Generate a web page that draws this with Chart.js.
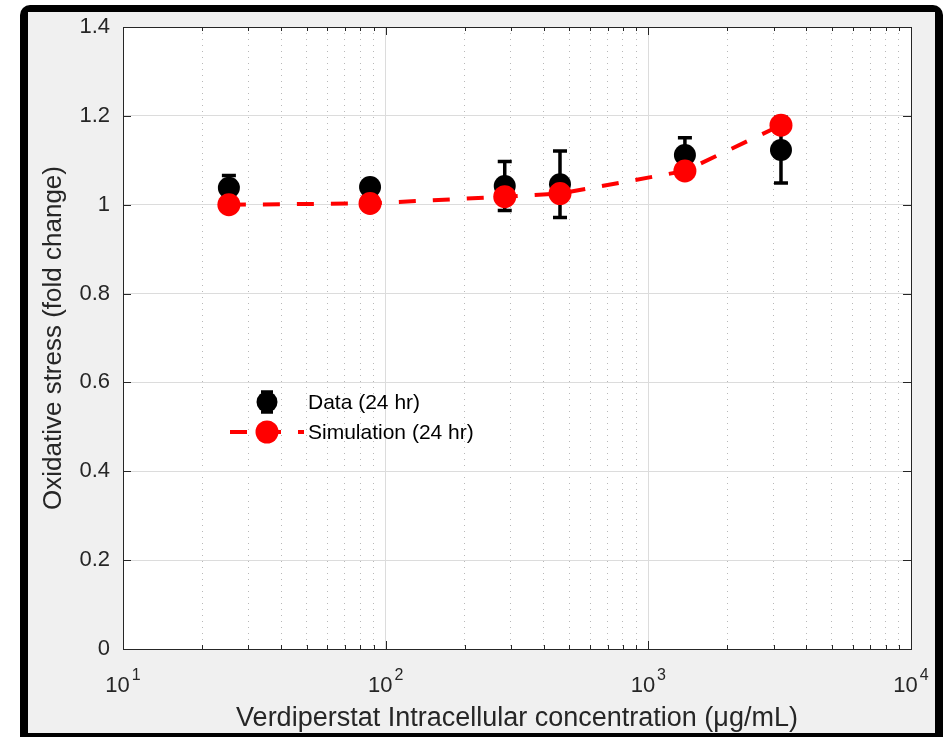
<!DOCTYPE html>
<html>
<head>
<meta charset="utf-8">
<script src="https://cdn.jsdelivr.net/npm/chart.js@4"></script>
<style>
body { margin: 0; background: #fff; }
canvas { display: block; }
</style>
</head>
<body>
<canvas id="myChart" width="946" height="737"></canvas>
<script>
// values
var concentration = [25.3, 87.2, 284, 461, 1378, 3199];
var dataMean = [1.038, 1.040, 1.042, 1.046, 1.112, 1.123];
var dataErr = [0.028, 0.012, 0.055, 0.075, 0.039, 0.074];
var simulation = [1.000, 1.003, 1.018, 1.025, 1.076, 1.179];
var xDecades = [10, 100, 1000, 10000];
var yTicks = [0, 0.2, 0.4, 0.6, 0.8, 1, 1.2, 1.4];
var legendLabels = ['Data (24 hr)', 'Simulation (24 hr)'];
var xTitle = 'Verdiperstat Intracellular concentration (\u03bcg/mL)';
var yTitle = 'Oxidative stress (fold change)';

var font = "'Liberation Sans', Arial, Helvetica, sans-serif";
var axisColor = '#262626';

// grid positions 10,20,...,90,100,200,...,10000
var xGrid = [];
xDecades.slice(0, 3).forEach(function (d) {
    for (var k = 1; k < 10; k++) xGrid.push(k * d);
});
xGrid.push(10000);

function isDecade(v) {
    var l = Math.log10(v);
    return Math.abs(l - Math.round(l)) < 1e-6;
}

var frame = {
    id: 'frame',
    beforeDraw: function (chart) {
        var c = chart.ctx, a = chart.chartArea;
        c.save();
        c.fillStyle = '#fff';
        c.fillRect(0, 0, chart.width, chart.height);
        c.fillStyle = '#000';
        c.beginPath();
        c.roundRect(20, 5, 923, 745, 10);
        c.fill();
        c.fillStyle = '#f0f0f0';
        c.fillRect(28, 12, 907, 721);
        c.fillStyle = '#fff';
        c.fillRect(a.left, a.top, a.right - a.left, a.bottom - a.top);
        c.restore();
    },
    beforeDatasetsDraw: function (chart) {
        // error bars of the data series
        var c = chart.ctx, xs = chart.scales.x, ys = chart.scales.y;
        c.save();
        c.strokeStyle = '#000';
        c.lineWidth = 3.5;
        concentration.forEach(function (v, i) {
            var px = xs.getPixelForValue(v);
            var top = ys.getPixelForValue(dataMean[i] + dataErr[i]);
            var bot = ys.getPixelForValue(dataMean[i] - dataErr[i]);
            c.beginPath();
            c.moveTo(px, top); c.lineTo(px, bot);
            c.moveTo(px - 7, top); c.lineTo(px + 7, top);
            c.moveTo(px - 7, bot); c.lineTo(px + 7, bot);
            c.stroke();
        });
        c.restore();
    },
    afterDatasetsDraw: function (chart) {
        // axes box with inward ticks
        var c = chart.ctx, a = chart.chartArea, xs = chart.scales.x, ys = chart.scales.y;
        c.save();
        c.strokeStyle = axisColor;
        c.lineWidth = 1;
        c.strokeRect(a.left + 0.5, a.top + 0.5, a.right - a.left, a.bottom - a.top);
        c.beginPath();
        xGrid.forEach(function (v) {
            var px = Math.round(xs.getPixelForValue(v)) + 0.5;
            var len = isDecade(v) ? 8 : 4;
            c.moveTo(px, a.bottom); c.lineTo(px, a.bottom - len);
            c.moveTo(px, a.top); c.lineTo(px, a.top + len);
        });
        yTicks.forEach(function (v) {
            var py = Math.round(ys.getPixelForValue(v)) + 0.5;
            c.moveTo(a.left, py); c.lineTo(a.left + 8, py);
            c.moveTo(a.right, py); c.lineTo(a.right - 8, py);
        });
        c.stroke();
        c.restore();
    },
    afterDraw: function (chart) {
        var c = chart.ctx, xs = chart.scales.x;
        c.save();
        // x tick labels as 10 with a raised exponent
        c.fillStyle = axisColor;
        c.textBaseline = 'alphabetic';
        c.textAlign = 'left';
        xDecades.forEach(function (v) {
            var px = xs.getPixelForValue(v);
            var exp = String(Math.round(Math.log10(v)));
            c.font = '22px ' + font;
            var w1 = c.measureText('10').width;
            c.font = '16px ' + font;
            var w2 = c.measureText(exp).width;
            var x0 = px - (w1 + 2 + w2) / 2;
            c.font = '22px ' + font;
            c.fillText('10', x0, 692);
            c.font = '16px ' + font;
            c.fillText(exp, x0 + w1 + 2, 680);
        });

        // legend
        c.strokeStyle = '#000';
        c.lineWidth = 3.5;
        c.beginPath();
        c.moveTo(267, 392); c.lineTo(267, 412);
        c.moveTo(261, 392); c.lineTo(273, 392);
        c.moveTo(261, 412); c.lineTo(273, 412);
        c.stroke();
        c.fillStyle = '#000';
        c.beginPath();
        c.arc(267, 402, 10.5, 0, Math.PI * 2);
        c.fill();

        c.strokeStyle = '#ff0000';
        c.lineWidth = 4;
        c.setLineDash([17, 17]);
        c.beginPath();
        c.moveTo(230, 432); c.lineTo(304, 432);
        c.stroke();
        c.setLineDash([]);
        c.fillStyle = '#ff0000';
        c.beginPath();
        c.arc(267, 432, 11.5, 0, Math.PI * 2);
        c.fill();

        c.fillStyle = '#000';
        c.font = '21px ' + font;
        c.textBaseline = 'middle';
        c.fillText(legendLabels[0], 308, 403);
        c.fillText(legendLabels[1], 308, 433);
        c.restore();
    }
};

var ctx = document.getElementById('myChart').getContext('2d');

var myChart = new Chart(ctx, {
    type: 'scatter',
    data: {
        datasets: [{
            label: legendLabels[1],
            data: concentration.map(function (c, i) { return { x: c, y: simulation[i] }; }),
            showLine: true,
            borderColor: '#ff0000',
            borderWidth: 4,
            borderDash: [17, 17],
            backgroundColor: '#ff0000',
            pointRadius: 11.5,
            pointHoverRadius: 11.5,
            pointBorderWidth: 0,
            order: 0
        }, {
            label: legendLabels[0],
            data: concentration.map(function (c, i) { return { x: c, y: dataMean[i] }; }),
            backgroundColor: '#000',
            borderColor: '#000',
            pointRadius: 11,
            pointHoverRadius: 11,
            pointBorderWidth: 0,
            order: 1
        }]
    },
    options: {
        responsive: false,
        animation: false,
        events: [],
        layout: { padding: { left: 0, top: 27, right: 35, bottom: 0 } },
        plugins: {
            legend: { display: false },
            tooltip: { enabled: false }
        },
        scales: {
            x: {
                type: 'logarithmic',
                min: 10,
                max: 10000,
                afterBuildTicks: function (scale) {
                    scale.ticks = xGrid.map(function (v) { return { value: v, major: isDecade(v) }; });
                },
                afterFit: function (scale) { scale.height = 88; },
                ticks: {
                    autoSkip: false,
                    maxRotation: 0,
                    callback: function () { return ''; }
                },
                grid: {
                    drawTicks: false,
                    lineWidth: 1,
                    color: function (c) {
                        return c.tick && !isDecade(c.tick.value) ? '#b8b8b8' : '#dcdcdc';
                    }
                },
                border: {
                    display: false,
                    dash: function (c) {
                        return c.tick && !isDecade(c.tick.value) ? [1, 5] : [];
                    }
                },
                title: {
                    display: true,
                    text: xTitle,
                    color: axisColor,
                    font: { family: font, size: 27 },
                    padding: { top: 0, bottom: 2 }
                }
            },
            y: {
                min: 0,
                max: 1.4,
                afterBuildTicks: function (scale) {
                    scale.ticks = yTicks.map(function (v) { return { value: v }; });
                },
                afterFit: function (scale) { scale.width = 123; },
                ticks: {
                    color: axisColor,
                    padding: 13,
                    font: { family: font, size: 22 },
                    callback: function (v) { return String(Math.round(v * 10) / 10); }
                },
                grid: {
                    drawTicks: false,
                    lineWidth: 1,
                    color: '#dcdcdc'
                },
                border: { display: false },
                title: {
                    display: true,
                    text: yTitle,
                    color: axisColor,
                    font: { family: font, size: 26 },
                    padding: { top: 38, bottom: 0 }
                }
            }
        }
    },
    plugins: [frame]
});
</script>
</body>
</html>
